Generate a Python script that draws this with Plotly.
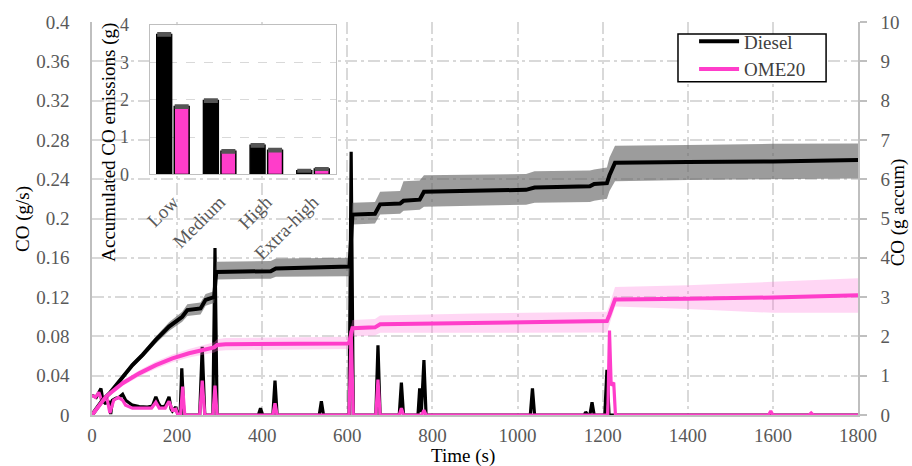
import plotly.graph_objects as go

FONT = "Liberation Serif"
PINK = "#FF3DCA"
GRAY_TXT = "#595959"
AXC = "#BFBFBF"
GRID = "#D9D9D9"

# ---------------- instantaneous CO (g/s) ----------------
diesel_t = [0, 10, 21, 26, 31, 41, 44, 48, 56, 64, 72, 79, 95, 111, 130, 142, 150, 156, 162, 172,
            181, 186, 189, 197, 202, 207, 211, 216, 253, 259, 265, 284, 289, 294, 391, 396, 401,
            425, 430, 435, 534, 539, 544, 604, 609, 614, 667, 672, 677, 722, 727, 732, 766, 770,
            774, 780, 785, 1030, 1035, 1040, 1157, 1160, 1165, 1170, 1175, 1180, 1205, 1210, 1215, 1800]
diesel_v = [0.020, 0.018, 0.027, 0.014, 0.012, 0.013, 0.001, 0.015, 0.017, 0.018, 0.021, 0.015, 0.010,
            0.0085, 0.008, 0.009, 0.0186, 0.012, 0.008, 0.009, 0.0186, 0.006, 0.004, 0.008, 0.0, 0.0,
            0.0475, 0.0, 0.0, 0.0695, 0.0, 0.0, 0.170, 0.0, 0.0, 0.007, 0.0, 0.0, 0.035, 0.0, 0.0,
            0.014, 0.0, 0.0, 0.268, 0.0, 0.0, 0.071, 0.0, 0.0, 0.033, 0.0, 0.0, 0.027, 0.003, 0.056,
            0.0, 0.0, 0.027, 0.0, 0.0, 0.003, 0.0, 0.0, 0.013, 0.0, 0.0, 0.046, 0.0, 0.0]

ome_t = [0, 8, 16, 23, 35, 42, 51, 62, 72, 79, 95, 140, 150, 158, 172, 181, 189, 197, 202, 208, 213,
         218, 253, 259, 265, 284, 289, 294, 425, 430, 435, 604, 609, 614, 667, 672, 677, 722, 727,
         732, 775, 780, 785, 1212, 1216, 1220, 1226, 1230, 1590, 1595, 1600, 1685, 1690, 1695, 1800]
ome_v = [0.020, 0.018, 0.023, 0.0145, 0.0175, 0.002, 0.015, 0.018, 0.015, 0.010, 0.007, 0.007, 0.013,
         0.007, 0.007, 0.014, 0.005, 0.006, 0.0, 0.0, 0.029, 0.0, 0.0, 0.035, 0.0, 0.0, 0.030, 0.0,
         0.0, 0.012, 0.0, 0.0, 0.086, 0.0, 0.0, 0.036, 0.0, 0.0, 0.007, 0.0, 0.0, 0.005, 0.0, 0.0,
         0.086, 0.030, 0.033, 0.0, 0.0, 0.004, 0.0, 0.0, 0.002, 0.0, 0.0]

# ---------------- accumulated CO (g) ----------------
diesel_cum_t = [0, 25, 41, 72, 95, 119, 150, 181, 212, 224, 255, 267, 282, 287, 292, 420, 432, 540,
                605, 612, 665, 677, 724, 732, 770, 780, 1020, 1040, 1170, 1180, 1210, 1216, 1229,
                1400, 1600, 1800]
diesel_cum = [0, 0.38, 0.55, 0.97, 1.27, 1.53, 1.91, 2.25, 2.50, 2.67, 2.71, 2.93, 2.97, 3.00, 3.64,
              3.66, 3.73, 3.76, 3.78, 5.10, 5.12, 5.36, 5.38, 5.45, 5.48, 5.68, 5.73, 5.79, 5.82,
              5.88, 5.90, 6.10, 6.42, 6.44, 6.45, 6.49]
diesel_cum_hi = [0, 0.42, 0.60, 1.03, 1.34, 1.60, 2.00, 2.36, 2.63, 2.82, 2.86, 3.08, 3.12, 3.15, 3.90,
                 3.92, 3.98, 3.99, 4.00, 5.40, 5.42, 5.68, 5.70, 5.95, 5.97, 6.10, 6.13, 6.20, 6.22,
                 6.25, 6.30, 6.55, 6.85, 6.87, 6.90, 6.91]
diesel_cum_lo = [0, 0.34, 0.50, 0.91, 1.20, 1.46, 1.82, 2.14, 2.37, 2.52, 2.56, 2.78, 2.82, 2.85, 3.45,
                 3.47, 3.52, 3.52, 3.53, 4.85, 4.87, 5.10, 5.12, 5.20, 5.22, 5.30, 5.35, 5.40, 5.42,
                 5.45, 5.50, 5.70, 5.95, 5.98, 6.00, 6.02]

ome_cum_t = [0, 33, 72, 111, 150, 189, 228, 259, 279, 287, 294, 314, 600, 604, 612, 665, 677, 900,
             1210, 1216, 1229, 1400, 1600, 1800]
ome_cum = [0, 0.47, 0.81, 1.06, 1.27, 1.44, 1.57, 1.65, 1.70, 1.72, 1.78, 1.80, 1.82, 1.83, 2.21,
           2.23, 2.31, 2.34, 2.39, 2.55, 2.94, 2.96, 2.99, 3.05]
ome_cum_hi = [0, 0.52, 0.88, 1.14, 1.36, 1.54, 1.68, 1.77, 1.83, 1.85, 1.93, 1.96, 1.99, 2.00, 2.42,
              2.44, 2.53, 2.58, 2.63, 2.80, 3.26, 3.30, 3.39, 3.48]
ome_cum_lo = [0, 0.42, 0.74, 0.98, 1.18, 1.34, 1.46, 1.53, 1.57, 1.59, 1.63, 1.65, 1.68, 1.69, 2.00,
              2.02, 2.09, 2.10, 2.10, 2.30, 2.76, 2.70, 2.60, 2.60]

# ---------------- inset bars ----------------
categories = ["Low", "Medium", "High", "Extra-high"]
diesel_acc = [3.75, 1.98, 0.78, 0.10]
ome_acc = [1.82, 0.62, 0.65, 0.15]
diesel_acc_err = [0.03, 0.03, 0.03, 0.02]
ome_acc_err = [0.03, 0.03, 0.03, 0.02]

# axis ticks
x_ticks = [0, 200, 400, 600, 800, 1000, 1200, 1400, 1600, 1800]
left_ticks = [0, 0.04, 0.08, 0.12, 0.16, 0.2, 0.24, 0.28, 0.32, 0.36, 0.4]
left_labels = ["0", "0.04", "0.08", "0.12", "0.16", "0.2", "0.24", "0.28", "0.32", "0.36", "0.4"]
right_ticks = [0, 1, 2, 3, 4, 5, 6, 7, 8, 9, 10]
inset_ticks = [0, 1, 2, 3, 4]

fig = go.Figure()

# bands (right axis)
fig.add_trace(go.Scatter(x=diesel_cum_t, y=diesel_cum_lo, yaxis="y2", mode="lines",
                         line=dict(width=0, color="rgba(0,0,0,0)"), showlegend=False, hoverinfo="skip"))
fig.add_trace(go.Scatter(x=diesel_cum_t, y=diesel_cum_hi, yaxis="y2", mode="lines", fill="tonexty",
                         fillcolor="rgba(95,95,95,0.62)", line=dict(width=0, color="rgba(0,0,0,0)"),
                         showlegend=False, hoverinfo="skip"))
fig.add_trace(go.Scatter(x=ome_cum_t, y=ome_cum_lo, yaxis="y2", mode="lines",
                         line=dict(width=0, color="rgba(0,0,0,0)"), showlegend=False, hoverinfo="skip"))
fig.add_trace(go.Scatter(x=ome_cum_t, y=ome_cum_hi, yaxis="y2", mode="lines", fill="tonexty",
                         fillcolor="rgba(255,120,220,0.30)", line=dict(width=0, color="rgba(0,0,0,0)"),
                         showlegend=False, hoverinfo="skip"))

# instantaneous (left axis)
fig.add_trace(go.Scatter(x=diesel_t, y=diesel_v, mode="lines", line=dict(color="black", width=3.2),
                         showlegend=False))
fig.add_trace(go.Scatter(x=ome_t, y=ome_v, mode="lines", line=dict(color=PINK, width=3.2),
                         showlegend=False))

# cumulative lines (right axis)
fig.add_trace(go.Scatter(x=diesel_cum_t, y=diesel_cum, yaxis="y2", mode="lines",
                         line=dict(color="black", width=4), name="Diesel"))
fig.add_trace(go.Scatter(x=ome_cum_t, y=ome_cum, yaxis="y2", mode="lines",
                         line=dict(color=PINK, width=4), name="OME20"))

# inset bars
fig.add_trace(go.Bar(x=categories, y=diesel_acc, xaxis="x2", yaxis="y3", showlegend=False,
                     marker=dict(color="black", line=dict(color="black", width=1.5)),
                     error_y=dict(type="data", array=diesel_acc_err, color="#555555", thickness=2.5, width=7)))
fig.add_trace(go.Bar(x=categories, y=ome_acc, xaxis="x2", yaxis="y3", showlegend=False,
                     marker=dict(color=PINK, line=dict(color="black", width=1.5)),
                     error_y=dict(type="data", array=ome_acc_err, color="#555555", thickness=2.5, width=7)))

tickfont = dict(family=FONT, size=19, color=GRAY_TXT)

fig.update_layout(
    width=912, height=466, autosize=False,
    margin=dict(l=92, r=49, t=21, b=51),
    paper_bgcolor="white", plot_bgcolor="white",
    font=dict(family=FONT, size=19, color="black"),
    barmode="group", bargap=0.25, bargroupgap=0.15,
    xaxis=dict(range=[0, 1800], tickvals=x_ticks, showgrid=True, gridcolor=GRID, gridwidth=1.5,
               griddash="12px,4px,3px,4px", showline=True, linecolor=AXC, linewidth=1.5,
               zeroline=False, tickfont=tickfont, ticks="", ticklabelstandoff=2),
    yaxis=dict(range=[0, 0.4], tickvals=left_ticks, ticktext=left_labels, showgrid=True,
               gridcolor=GRID, gridwidth=1.5, griddash="12px,4px,3px,4px", showline=True,
               linecolor=AXC, linewidth=1.5, zeroline=False, tickfont=tickfont, ticks="",
               ticklabelstandoff=17),
    yaxis2=dict(range=[0, 10], tickvals=right_ticks, overlaying="y", side="right", showgrid=False,
                showline=True, linecolor=AXC, linewidth=1.5, zeroline=False, tickfont=tickfont,
                ticks="outside", ticklen=7, tickcolor=AXC, tickwidth=1.5, ticklabelstandoff=10),
    xaxis2=dict(domain=[0.0752, 0.319], anchor="y3", showline=True, mirror=True, linecolor=AXC,
                linewidth=1.2, showgrid=False, tickangle=-45, tickfont=tickfont, ticks="",
                ticklabelstandoff=8),
    yaxis3=dict(domain=[0.612, 0.992], anchor="x2", range=[0, 4], tickvals=inset_ticks,
                showline=True, mirror=True, linecolor=AXC, linewidth=1.2, showgrid=True,
                gridcolor=GRID, gridwidth=1.2, griddash="dash", zeroline=False,
                tickfont=dict(family=FONT, size=18, color=GRAY_TXT), ticks="", ticklabelstandoff=16),
    legend=dict(x=0.786, y=0.999, xanchor="left", yanchor="top", bgcolor="rgba(0,0,0,0)",
                borderwidth=0, font=dict(family=FONT, size=19, color="#404040"),
                itemwidth=40, traceorder="normal"),
    shapes=[
        dict(type="rect", xref="x2 domain", yref="y3 domain", x0=0, x1=1, y0=0, y1=1,
             fillcolor="white", line=dict(width=0), layer="below"),
        dict(type="rect", xref="x", yref="y", x0=1377, x1=1725, y0=0.3391, y1=0.3878,
             fillcolor="white", line=dict(width=1.5, color="black"), layer="between"),
    ],
    annotations=[
        dict(text="Time (s)", xref="paper", yref="paper", x=0.4838, y=-0.105, showarrow=False,
             xanchor="center", yanchor="middle", font=dict(family=FONT, size=19, color="black")),
        dict(text="CO (g/s)", xref="paper", yref="paper", x=-0.0908, y=0.5, showarrow=False,
             textangle=-90, xanchor="center", yanchor="middle", font=dict(family=FONT, size=19, color="black")),
        dict(text="CO (g accum)", xref="paper", yref="paper", x=1.0519, y=0.515, showarrow=False,
             textangle=-90, xanchor="center", yanchor="middle", font=dict(family=FONT, size=19, color="black")),
        dict(text="Accumulated CO emissions (g)", xref="paper", yref="paper", x=0.022, y=0.695,
             showarrow=False, textangle=-90, xanchor="center", yanchor="middle",
             font=dict(family=FONT, size=19, color="black")),
    ],
)

fig.write_html("out.html")
